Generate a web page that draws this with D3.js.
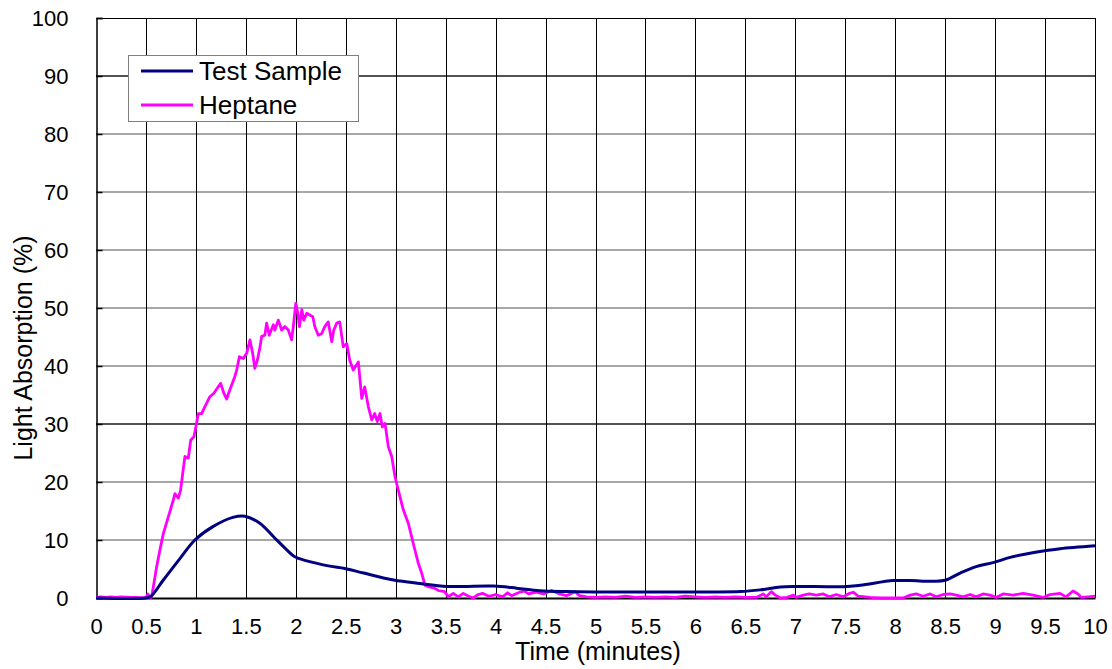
<!DOCTYPE html>
<html>
<head>
<meta charset="utf-8">
<script src="https://cdn.jsdelivr.net/npm/d3@7"></script>
<style>
  html, body { margin: 0; padding: 0; background: #fff; }
  svg text { font-family: "Liberation Sans", Arial, sans-serif; fill: #000; }
</style>
</head>
<body>
<svg id="chart" width="1112" height="669"></svg>
<script>
// ---- data ----
const xTicks = [0,0.5,1,1.5,2,2.5,3,3.5,4,4.5,5,5.5,6,6.5,7,7.5,8,8.5,9,9.5,10];
const yTicks = [0,10,20,30,40,50,60,70,80,90,100];
const seriesNames = ["Test Sample", "Heptane"];

const testT = [0,0.5,0.55,0.674,0.84,0.99,1.17,1.37,1.49,1.64,1.775,1.91,1.99,2.11,2.34,2.49,2.68,2.98,3.24,3.51,3.68,3.98,4.21,4.44,4.71,5.0,6.0,6.45,6.65,6.85,7.0,7.48,7.65,7.98,8.15,8.38,8.5,8.65,8.81,8.98,9.15,9.31,9.48,9.65,10];
const testV = [0,0,0.3,3.1,6.8,10.0,12.3,13.9,14.1,12.9,10.6,8.3,7.1,6.4,5.5,5.1,4.3,3.1,2.5,2.0,2.0,2.05,1.7,1.25,1.1,1.05,1.05,1.1,1.4,1.9,2.0,1.95,2.2,3.0,3.0,2.9,3.05,4.3,5.4,6.1,7.0,7.6,8.1,8.5,9.0];

const heptT = [0,0.05,0.1,0.15,0.2,0.25,0.3,0.35,0.4,0.45,0.5,0.52,0.54,0.557,0.574,0.607,0.64,0.674,0.724,0.774,0.79,0.824,0.847,0.868,0.89,0.924,0.948,0.98,1.0,1.024,1.058,1.09,1.14,1.18,1.215,1.248,1.28,1.308,1.34,1.39,1.408,1.435,1.475,1.508,1.541,1.568,1.59,1.615,1.642,1.658,1.69,1.708,1.734,1.775,1.79,1.825,1.858,1.89,1.925,1.958,1.975,2.0,2.02,2.036,2.06,2.08,2.11,2.14,2.17,2.19,2.225,2.26,2.29,2.325,2.36,2.38,2.41,2.44,2.475,2.51,2.54,2.575,2.626,2.643,2.66,2.69,2.726,2.76,2.79,2.816,2.843,2.866,2.893,2.926,2.96,2.993,3.026,3.076,3.126,3.176,3.226,3.26,3.293,3.326,3.393,3.43,3.49,3.526,3.576,3.626,3.676,3.73,3.776,3.826,3.87,3.93,4.0,4.07,4.12,4.16,4.24,4.29,4.33,4.41,4.48,4.56,4.64,4.71,4.795,4.84,4.91,5.0,5.1,5.2,5.3,5.4,5.5,5.6,5.7,5.8,5.9,6.0,6.1,6.2,6.3,6.4,6.5,6.61,6.68,6.71,6.76,6.8,6.85,6.92,6.98,7.01,7.08,7.14,7.21,7.28,7.34,7.41,7.48,7.53,7.58,7.63,7.75,7.85,7.98,8.08,8.15,8.21,8.28,8.35,8.41,8.48,8.55,8.61,8.68,8.75,8.81,8.88,8.95,9.01,9.08,9.18,9.28,9.38,9.48,9.55,9.65,9.71,9.78,9.83,9.86,9.93,10.0];
const heptV = [0.1,0.2,0.1,0.2,0.1,0.2,0.15,0.1,0.1,0.05,0.1,0.7,0.0,0.2,1.95,5.4,8.3,11.1,14,16.9,18.0,17.2,18.6,21.5,24.4,24.1,27.2,27.8,29.5,31.8,31.8,33.0,34.7,35.3,36.2,37.0,35.3,34.3,35.9,38.2,39.3,41.6,41.3,42.2,44.5,42.2,39.6,41.0,43.3,45.1,45.3,47.4,45.3,47.1,46.2,47.9,46.2,46.8,46.2,44.5,46.8,50.8,49.1,46.8,49.7,47.9,49.1,48.8,48.5,46.8,45.3,45.6,46.8,47.6,44.2,46.2,47.4,47.6,43.3,43.9,41.0,39.3,40.7,37.6,34.4,36.4,33.0,30.7,31.8,30.4,31.8,29.5,30.1,26.1,24.4,20.9,18.6,15.2,12.9,9.4,6.0,4.3,2.2,1.95,1.67,1.26,1.09,0.22,0.8,0.2,0.8,0.3,0.0,0.6,0.8,0.3,0.6,0.2,0.9,0.4,1.0,1.2,0.7,1.0,0.7,1.3,0.7,0.4,1.1,0.4,0.2,0.1,0.2,0.1,0.3,0.1,0.2,0.1,0.2,0.1,0.3,0.2,0.1,0.2,0.1,0.2,0.1,0.1,0.7,0.2,1.1,0.5,0,0.1,0.5,0.1,0.5,0.7,0.5,0.7,0.2,0.6,0.2,0.7,1.0,0.3,0.1,0,0,0,0.5,0.7,0.3,0.7,0.2,0.6,0.7,0.5,0.2,0.6,0.2,0.7,0.5,0.1,0.7,0.5,0.8,0.5,0.1,0.6,0.8,0.2,1.2,0.7,0.1,0.2,0.3];

// ---- layout ----
const svg = d3.select("#chart");
const L = 96, R = 1095, T = 18, B = 598;
const x = d3.scaleLinear().domain([0, 10]).range([L, R]);
const y = d3.scaleLinear().domain([0, 100]).range([B, T]);

// horizontal grid
const darkH = new Set([30, 90]);
svg.append("g").selectAll("line").data(yTicks.filter(v => v > 0 && v < 100)).join("line")
  .attr("x1", L).attr("x2", R)
  .attr("y1", d => y(d)).attr("y2", d => y(d))
  .attr("stroke", d => darkH.has(d) ? "#1a1a1a" : "#8a8a8a")
  .attr("stroke-width", 1.6);

// vertical grid
svg.append("g").selectAll("line").data(xTicks.filter(v => v > 0)).join("line")
  .attr("x1", d => Math.round(x(d)) + 0.5).attr("x2", d => Math.round(x(d)) + 0.5)
  .attr("y1", T).attr("y2", B)
  .attr("stroke", "#000").attr("stroke-width", 1);

// top border
svg.append("line").attr("x1", L).attr("x2", R).attr("y1", T + 0.5).attr("y2", T + 0.5)
  .attr("stroke", "#000").attr("stroke-width", 1.2);

// y axis (inward ticks)
const yAxis = d3.axisLeft(y).tickValues(yTicks).tickSize(-6).tickPadding(28).tickFormat(d3.format("d"));
const gy = svg.append("g").attr("transform", `translate(${L + 0.5},0)`).call(yAxis);
gy.select(".domain").attr("stroke", "#000").attr("stroke-width", 1.5);
gy.selectAll(".tick line").attr("stroke", "#000").attr("stroke-width", 1.5);
gy.selectAll(".tick text").attr("font-size", 22).attr("font-family", "Liberation Sans, Arial, sans-serif")
  .attr("fill", "#000").attr("dy", "0.36em");

// x axis
const xAxis = d3.axisBottom(x).tickValues(xTicks).tickSize(0).tickPadding(20).tickFormat(d => String(d));
const gx = svg.append("g").attr("transform", `translate(0,${B})`).call(xAxis);
gx.select(".domain").attr("stroke", "#000").attr("stroke-width", 2);
gx.selectAll(".tick text").attr("font-size", 22).attr("font-family", "Liberation Sans, Arial, sans-serif")
  .attr("fill", "#000");

// axis titles
svg.append("text").attr("x", 598).attr("y", 660).attr("text-anchor", "middle")
  .attr("font-size", 25).text("Time (minutes)");
svg.append("text").attr("transform", "translate(32,348) rotate(-90)").attr("text-anchor", "middle")
  .attr("font-size", 25).text("Light Absorption (%)");

// lines
svg.append("clipPath").attr("id", "pc").append("rect")
  .attr("x", L).attr("y", T - 2).attr("width", R - L + 2).attr("height", B - T + 4);

const heptData = heptT.map((t, i) => [t, heptV[i]]);
const testData = testT.map((t, i) => [t, testV[i]]);

svg.append("path").datum(heptData)
  .attr("clip-path", "url(#pc)")
  .attr("fill", "none").attr("stroke", "#ff00ff").attr("stroke-width", 2.8)
  .attr("stroke-linejoin", "round")
  .attr("d", d3.line().x(d => x(d[0])).y(d => y(d[1])));

svg.append("path").datum(testData)
  .attr("clip-path", "url(#pc)")
  .attr("fill", "none").attr("stroke", "#000080").attr("stroke-width", 3)
  .attr("stroke-linejoin", "round")
  .attr("d", d3.line().curve(d3.curveCatmullRom.alpha(0.5)).x(d => x(d[0])).y(d => y(d[1])));

// legend
const lg = svg.append("g");
lg.append("rect").attr("x", 128.5).attr("y", 55.5).attr("width", 230).attr("height", 66)
  .attr("fill", "#fff").attr("stroke", "#808080").attr("stroke-width", 1);
const colors = ["#000080", "#ff00ff"];
seriesNames.forEach((name, i) => {
  const yy = 71 + i * 34;
  lg.append("line").attr("x1", 141).attr("x2", 193).attr("y1", yy).attr("y2", yy)
    .attr("stroke", colors[i]).attr("stroke-width", 3);
  lg.append("text").attr("x", 199).attr("y", yy + 9).attr("font-size", 26).text(name);
});
</script>
</body>
</html>
